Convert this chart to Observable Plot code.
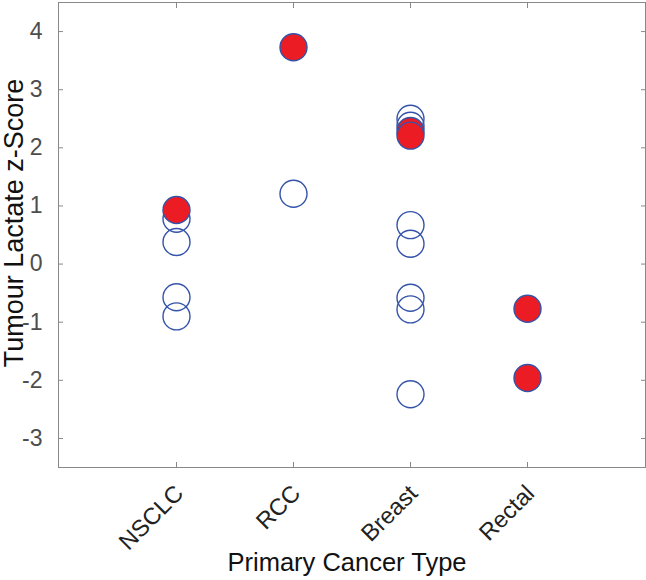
<!DOCTYPE html>
<html>
<head>
<meta charset="utf-8">
<script src="https://cdn.jsdelivr.net/npm/d3@7"></script>
<script src="https://cdn.jsdelivr.net/npm/@observablehq/plot@0.6"></script>
<style>
  html, body { margin: 0; padding: 0; background: #fff; }
  #chart svg { display: block; }
</style>
</head>
<body>
<div id="chart"></div>
<script>
// Categories and tick values
const categories = ["NSCLC", "RCC", "Breast", "Rectal"];
const yTicks = [-3, -2, -1, 0, 1, 2, 3, 4];

// Open (blue outline) points
const openType  = ["NSCLC", "NSCLC", "NSCLC", "NSCLC", "RCC", "Breast", "Breast", "Breast", "Breast", "Breast", "Breast", "Breast"];
const openScore = [0.78, 0.38, -0.57, -0.90, 1.21, 2.50, 2.38, 0.67, 0.35, -0.58, -0.78, -2.24];

// Filled (red) points
const filledType  = ["NSCLC", "RCC", "Breast", "Breast", "Rectal", "Rectal"];
const filledScore = [0.93, 3.73, 2.29, 2.21, -0.77, -1.96];

const openRows = openType.map((t, i) => ({type: t, score: openScore[i]}));
const filledRows = filledType.map((t, i) => ({type: t, score: filledScore[i]}));

const FONT = "'Liberation Sans', Arial, Helvetica, sans-serif";
const BLUE = "#3453a9";
const RED = "#ec1c24";
const FRAME = "#888888";

const chart = Plot.plot({
  width: 646,
  height: 580,
  marginLeft: 58,
  marginRight: 1,
  marginTop: 2,
  marginBottom: 113,
  style: {fontFamily: FONT, background: "#fff"},
  x: {type: "point", domain: categories, padding: 1},
  y: {domain: [-3.5, 4.5]},
  marks: [
    Plot.frame({stroke: FRAME, strokeWidth: 1}),
    Plot.axisY({anchor: "left", ticks: yTicks, tickFormat: d => String(d), tickSize: -5, tickPadding: 21,
                fontSize: 23, stroke: FRAME, fill: "#4d4d4d", label: null}),
    Plot.axisY({anchor: "right", ticks: yTicks, tickSize: -5, tickFormat: () => "", stroke: FRAME, label: null}),
    Plot.axisX({anchor: "bottom", tickSize: -5, tickFormat: () => "", stroke: FRAME, label: null}),
    Plot.axisX({anchor: "top", tickSize: -5, tickFormat: () => "", stroke: FRAME, label: null}),
    Plot.text(categories, {x: d => d, frameAnchor: "bottom", rotate: -45, textAnchor: "end",
                           lineAnchor: "middle", dx: 3, dy: 22, fontSize: 23.5, fill: "#222"}),
    Plot.text(["Primary Cancer Type"], {frameAnchor: "bottom", textAnchor: "middle", lineAnchor: "middle",
                                        dx: -5, dy: 95, fontSize: 25.5, fill: "#111"}),
    Plot.text(["Tumour Lactate z-Score"], {frameAnchor: "left", rotate: -90, textAnchor: "middle",
                                           lineAnchor: "middle", dx: -44, dy: -12, fontSize: 27, fill: "#111"}),
    Plot.dot(openRows, {x: "type", y: "score", r: 13.5, stroke: BLUE, strokeWidth: 1.4, fill: "none"}),
    Plot.dot(filledRows, {x: "type", y: "score", r: 13.5, stroke: BLUE, strokeWidth: 1.4, fill: RED})
  ]
});
document.getElementById("chart").appendChild(chart);
</script>
</body>
</html>
